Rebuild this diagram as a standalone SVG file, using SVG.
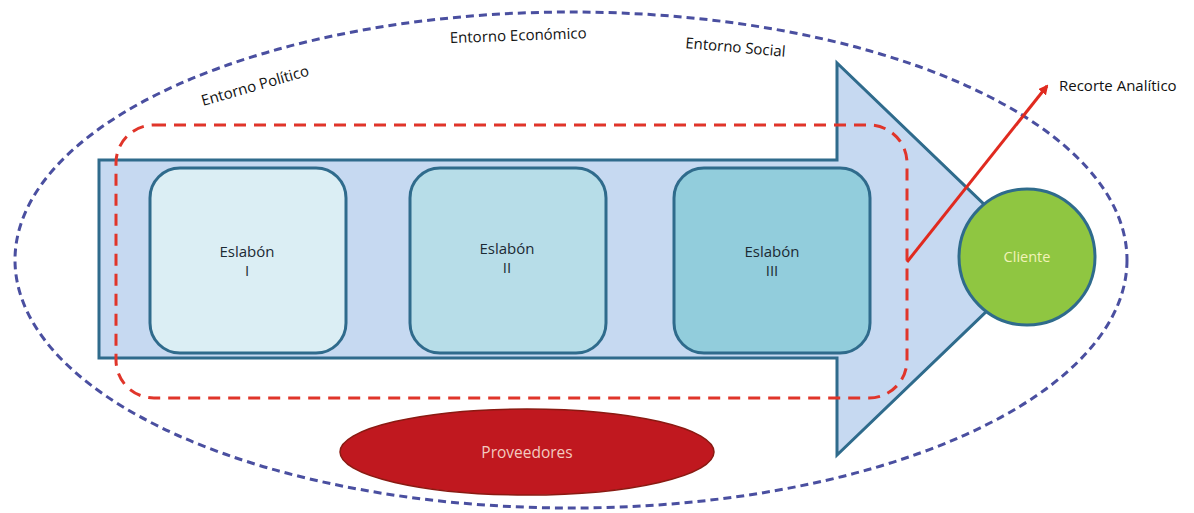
<svg xmlns="http://www.w3.org/2000/svg" width="1194" height="513" viewBox="0 0 1194 513">
  <defs>
    <marker id="redHead" markerWidth="10" markerHeight="10" refX="8" refY="5" orient="auto" markerUnits="userSpaceOnUse">
      <path d="M0,0 L10,5 L0,10 Z" fill="#e02a1f"/>
    </marker>
  </defs>
  <style>
    text { font-family: "Open Sans", "Liberation Sans", sans-serif; }
    .label { font-size: 15px; fill: #111111; }
    .box { stroke: #2f6b8c; stroke-width: 3; }
    .boxText { font-size: 15px; fill: #1c2a33; text-anchor: middle; }
  </style>
  <rect width="1194" height="513" fill="#ffffff"/>

  <!-- surrounding environment -->
  <g id="entorno">
    <ellipse cx="571" cy="260" rx="556" ry="248" fill="none" stroke="#4a4fa0" stroke-width="3" stroke-dasharray="8,5"/>
    <text class="label" transform="translate(203,106) rotate(-16)">Entorno Político</text>
    <text class="label" transform="translate(450,43) rotate(-2)">Entorno Económico</text>
    <text class="label" transform="translate(685,48) rotate(5)">Entorno Social</text>
  </g>

  <!-- value chain arrow -->
  <g id="cadena">
    <path d="M99,160 L837,160 L837,63 L1041,259 L837,455 L837,358 L99,358 Z" fill="#c6d9f1" stroke="#2f6b8c" stroke-width="3" stroke-linejoin="miter"/>
  </g>

  <g id="eslabon1">
    <rect class="box" x="150" y="168" width="196" height="185" rx="30" fill="#dbeef4"/>
    <text class="boxText" x="247" y="257">Eslabón</text>
    <text class="boxText" x="247" y="276">I</text>
  </g>
  <g id="eslabon2">
    <rect class="box" x="410" y="168" width="196" height="185" rx="30" fill="#b7dde8"/>
    <text class="boxText" x="507" y="254">Eslabón</text>
    <text class="boxText" x="507" y="273">II</text>
  </g>
  <g id="eslabon3">
    <rect class="box" x="674" y="168" width="196" height="185" rx="30" fill="#92cddc"/>
    <text class="boxText" x="772" y="257">Eslabón</text>
    <text class="boxText" x="772" y="276">III</text>
  </g>

  <!-- analytical cut -->
  <g id="recorte">
    <rect x="116" y="125" width="791" height="273" rx="38" fill="none" stroke="#e0352a" stroke-width="3" stroke-dasharray="12,8"/>
  </g>

  <g id="cliente">
    <circle cx="1027" cy="257" r="68" fill="#8fc641" stroke="#2f6b8c" stroke-width="3"/>
    <text x="1027" y="262" font-size="14.5" fill="#f2f3b8" text-anchor="middle">Cliente</text>
  </g>

  <g id="proveedores">
    <ellipse cx="527" cy="452" rx="187" ry="43" fill="#c0181f" stroke="#8a1a12" stroke-width="1.5"/>
    <text x="527" y="458" font-size="15.5" fill="#f3c9bf" text-anchor="middle">Proveedores</text>
  </g>

  <g id="connectors">
    <line x1="907" y1="262" x2="1047" y2="86" stroke="#e02a1f" stroke-width="3" marker-end="url(#redHead)"/>
  </g>
  <text class="label" x="1059" y="91" font-size="14">Recorte Analítico</text>
</svg>
